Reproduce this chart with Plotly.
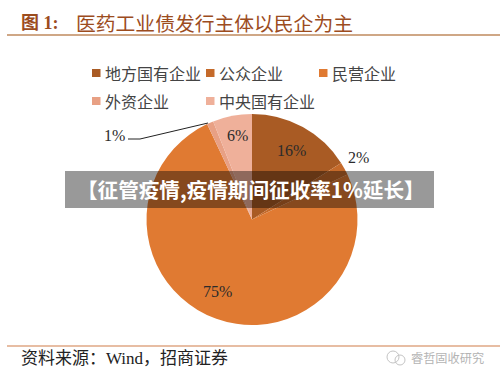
import plotly.graph_objects as go

categories = ["地方国有企业", "公众企业", "民营企业", "外资企业", "中央国有企业"]
values = [16, 2, 75, 1, 6]
colors = ["#a95b24", "#c56a2a", "#e07a32", "#e8a084", "#efb09a"]

W, H = 500, 380
SERIF = "Liberation Serif, Noto Sans CJK SC"
CJK = "Noto Sans CJK SC"

def px(x): return x / W
def py(y): return 1 - y / H

def text(x, y, s, size, color, family=CJK, anchor="left", bold=False):
    return dict(x=px(x), y=py(y), xref="paper", yref="paper", text=f"<b>{s}</b>" if bold else s,
                showarrow=False, xanchor=anchor, yanchor="middle",
                font=dict(size=size, color=color, family=family))

fig = go.Figure(go.Pie(
    labels=categories, values=values, sort=False, direction="clockwise", rotation=0,
    marker=dict(colors=colors, line=dict(width=0)), textinfo="none", hoverinfo="label+percent",
    showlegend=False,
    domain=dict(x=[px(146.5), px(357.5)], y=[py(325), py(114)]),
))

annotations = []
shapes = []

# title and rules
annotations.append(text(19, 23, "图 1:", 18, "#9c4c1e", family=SERIF, bold=True))
annotations.append(text(74, 23, "医药工业债发行主体以民企为主", 19.8, "#9c4c1e", bold=False))
shapes.append(dict(type="line", xref="paper", yref="paper", x0=px(7), x1=1, y0=py(35), y1=py(35),
                   line=dict(color="#bf8a5e", width=1.5)))
shapes.append(dict(type="line", xref="paper", yref="paper", x0=px(7), x1=1, y0=py(346), y1=py(346),
                   line=dict(color="#cf7d48", width=1.2)))

# legend
legend_pos = [(92, 73), (206, 73), (319, 73), (92, 101), (206, 101)]
for (x, y), name, c in zip(legend_pos, categories, colors):
    shapes.append(dict(type="rect", xref="paper", yref="paper", x0=px(x), x1=px(x + 8.5),
                       y0=py(y + 4), y1=py(y - 4), fillcolor=c, line=dict(width=0)))
    annotations.append(text(x + 10.5, y - 0.5, name, 16, "#444444"))

# slice labels
label_pos = [(291, 150), (358, 158), (217, 291), (114, 135), (237, 135)]
for (x, y), v in zip(label_pos, values):
    annotations.append(text(x, y, f"{v}%", 16, "#2b2b2b", family=SERIF, anchor="center"))

# leader line for the 1% slice
shapes.append(dict(type="path", xref="paper", yref="paper",
                   path=f"M {px(128)} {py(139)} L {px(140)} {py(139)} L {px(208)} {py(123)}",
                   line=dict(color="#222222", width=1)))

# banner
shapes.append(dict(type="rect", xref="paper", yref="paper", x0=px(65), x1=px(434), y0=py(208), y1=py(171),
                   fillcolor="rgba(0,0,0,0.4)", line=dict(width=0), layer="above"))
annotations.append(text(251, 189, "【征管疫情,疫情期间征收率1%延长】", 20.6, "#ffffff", anchor="center", bold=True))

# footer
annotations.append(text(19, 358, "资料来源\uff1aWind\uff0c招商证券", 17, "#222222", family=SERIF))
annotations.append(text(409, 358, "睿哲固收研究", 12.2, "#b4b4b4"))
for cx, cy, r in [(393, 357, 6), (400, 360, 5)]:
    shapes.append(dict(type="circle", xref="paper", yref="paper", x0=px(cx - r), x1=px(cx + r),
                       y0=py(cy + r), y1=py(cy - r), line=dict(color="#c4c4c4", width=1)))

fig.update_layout(width=W, height=H, margin=dict(l=0, r=0, t=0, b=0), paper_bgcolor="white",
                  plot_bgcolor="white", showlegend=False, annotations=annotations, shapes=shapes)
fig.write_html("out.html", config=dict(displayModeBar=False),
               post_script="document.body.style.margin='0';document.body.style.overflow='hidden';")
